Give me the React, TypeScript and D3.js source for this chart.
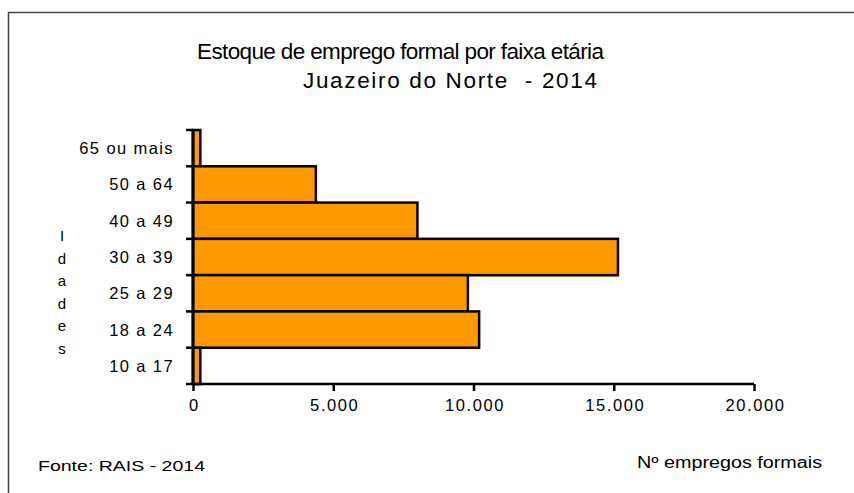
import React, { useRef, useEffect } from 'react';
import * as d3 from 'd3';

const categories = ['65 ou mais', '50 a 64', '40 a 49', '30 a 39', '25 a 29', '18 a 24', '10 a 17'];
const values = [260, 4380, 8000, 15150, 9800, 10200, 260];
const xTicks = [0, 5000, 10000, 15000, 20000];
const xTickLabels = ['0', '5.000', '10.000', '15.000', '20.000'];
const yAxisLetters = ['I', 'd', 'a', 'd', 'e', 's'];

const FONT = '"Liberation Sans", Arial, sans-serif';
const ORANGE = '#FF9900';

export default function App() {
  const svgRef = useRef<SVGSVGElement>(null);

  useEffect(() => {
    if (!svgRef.current) return;
    const svg = d3.select(svgRef.current);
    svg.selectAll('*').remove();

    const W = 854, H = 493;
    const left = 193, right = 754, top = 130, bottom = 384;

    svg.append('rect').attr('width', W).attr('height', H).attr('fill', '#fff');
    // outer frame (runs off the picture on right and bottom)
    svg.append('rect')
      .attr('x', 8.5).attr('y', 12.5).attr('width', 900).attr('height', 600)
      .attr('fill', 'none').attr('stroke', '#444').attr('stroke-width', 1.5);

    // title
    svg.append('text')
      .attr('x', 197).attr('y', 59)
      .attr('textLength', 407).attr('lengthAdjust', 'spacing')
      .attr('font-family', FONT).attr('font-size', 22.5).attr('fill', '#000')
      .text('Estoque de emprego formal por faixa etária');
    svg.append('text')
      .attr('x', 303).attr('y', 88)
      .attr('textLength', 294).attr('lengthAdjust', 'spacing')
      .style('white-space', 'pre')
      .attr('font-family', FONT).attr('font-size', 22.5).attr('fill', '#000')
      .text('Juazeiro do Norte  - 2014');

    const x = d3.scaleLinear().domain([0, 20000]).range([left, right]);
    const y = d3.scaleBand<string>().domain(categories).range([top, bottom]).padding(0);

    const g = svg.append('g');

    // bars: orange offset sliver, then bar with black border
    g.selectAll('rect.under')
      .data(values)
      .join('rect')
      .attr('class', 'under')
      .attr('x', left + 1)
      .attr('y', (_, i) => y(categories[i])! + 1.5)
      .attr('width', d => x(d) - left)
      .attr('height', y.bandwidth())
      .attr('fill', ORANGE);

    g.selectAll('rect.bar')
      .data(values)
      .join('rect')
      .attr('class', 'bar')
      .attr('x', left)
      .attr('y', (_, i) => y(categories[i])!)
      .attr('width', d => x(d) - left)
      .attr('height', y.bandwidth())
      .attr('fill', ORANGE)
      .attr('stroke', '#000')
      .attr('stroke-width', 2.5);

    // y axis
    const yTickPos = d3.range(categories.length + 1).map(i => top + i * y.bandwidth());
    g.selectAll('line.ytick')
      .data(yTickPos)
      .join('line')
      .attr('class', 'ytick')
      .attr('x1', left - 7).attr('x2', left)
      .attr('y1', d => d).attr('y2', d => d)
      .attr('stroke', '#000').attr('stroke-width', 2.5);
    g.append('line')
      .attr('x1', left).attr('x2', left).attr('y1', top - 1).attr('y2', bottom + 1)
      .attr('stroke', '#000').attr('stroke-width', 3);

    g.selectAll('text.ylab')
      .data(categories)
      .join('text')
      .attr('class', 'ylab')
      .attr('x', 174)
      .attr('y', d => y(d)! + y.bandwidth() / 2 + 6)
      .attr('text-anchor', 'end')
      .attr('letter-spacing', 1.4)
      .attr('font-family', FONT).attr('font-size', 16.5).attr('fill', '#000')
      .text(d => d);

    // x axis
    const xAxis = d3.axisBottom(x).tickValues(xTicks).tickSize(7).tickPadding(8)
      .tickFormat((_, i) => xTickLabels[i]);
    const xg = g.append('g').attr('transform', `translate(0,${bottom})`).call(xAxis);
    xg.select('.domain').attr('stroke', '#000').attr('stroke-width', 2.5)
      .attr('d', `M${left},0H${right}`);
    xg.selectAll('.tick line').attr('stroke', '#000').attr('stroke-width', 2.5);
    xg.selectAll('.tick text')
      .attr('font-family', FONT).attr('font-size', 16.5).attr('fill', '#000')
      .attr('letter-spacing', 1.6).attr('dx', 1);

    // axis titles
    g.selectAll('text.ytitle')
      .data(yAxisLetters)
      .join('text')
      .attr('class', 'ytitle')
      .attr('x', 62)
      .attr('y', (_, i) => 241 + i * 22.6)
      .attr('text-anchor', 'middle')
      .attr('font-family', FONT).attr('font-size', 15).attr('fill', '#000')
      .text(d => d);

    svg.append('text')
      .attr('x', 637).attr('y', 468)
      .attr('textLength', 185).attr('lengthAdjust', 'spacingAndGlyphs')
      .attr('font-family', FONT).attr('font-size', 16).attr('fill', '#000')
      .text('Nº empregos formais');

    svg.append('text')
      .attr('x', 38).attr('y', 471)
      .attr('textLength', 167).attr('lengthAdjust', 'spacingAndGlyphs')
      .attr('font-family', FONT).attr('font-size', 15).attr('fill', '#000')
      .text('Fonte: RAIS - 2014');
  }, []);

  return (
    <div style={{ position: 'fixed', left: 0, top: 0 }}>
      <svg ref={svgRef} width={854} height={493} style={{ display: 'block' }} />
    </div>
  );
}
